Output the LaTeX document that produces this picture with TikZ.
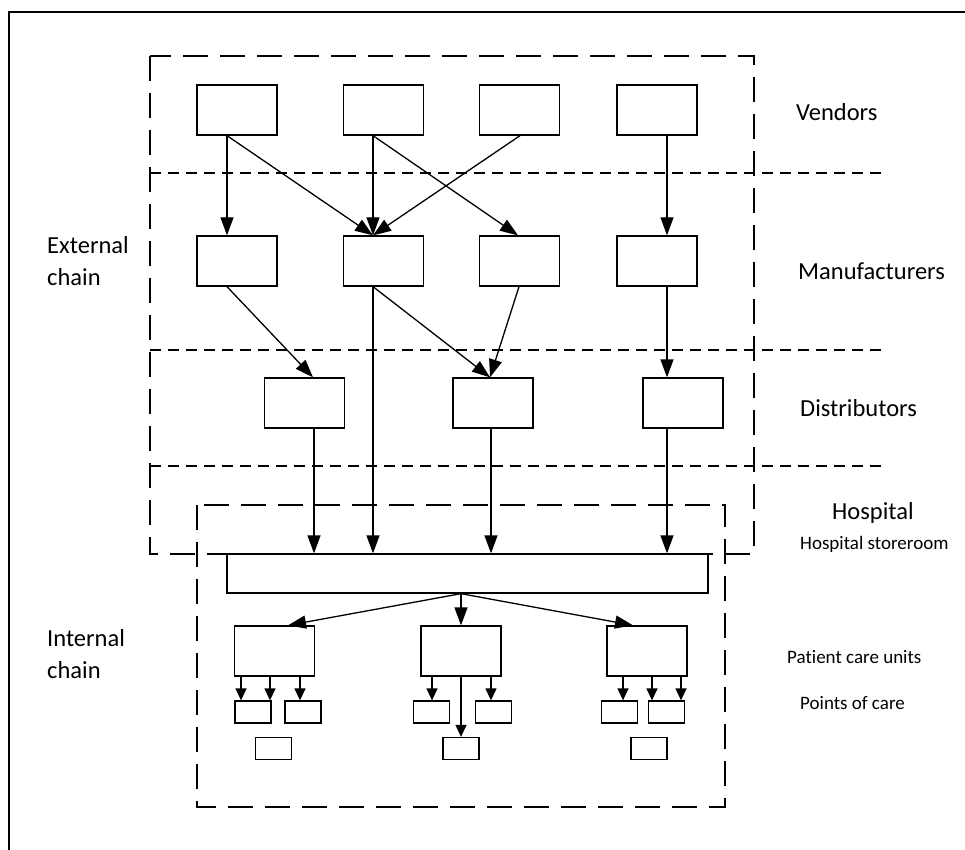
\documentclass[tikz,border=0pt]{standalone}
\usepackage{fontspec}
\setmainfont{Carlito}[Ligatures=NoCommon]
\usetikzlibrary{arrows.meta,calc}

\begin{document}
\begin{tikzpicture}[x=1pt,y=-1pt,
  box/.style={draw, line width=1.3pt, minimum width=80pt, minimum height=50pt, inner sep=0pt},
  poc/.style={draw, line width=1.3pt, minimum width=36pt, minimum height=22pt, inner sep=0pt},
  arr/.style={line width=1.3pt, -{Triangle[length=18pt,width=13pt]}},
  sarr/.style={line width=1.3pt, -{Triangle[length=12pt,width=11pt]}},
  zone/.style={line width=1.3pt, dash pattern=on 25pt off 12pt},
  tier/.style={line width=1.3pt, dash pattern=on 11pt off 7pt},
  big/.style={font=\fontsize{24.5}{30}\selectfont, inner sep=0pt, anchor=base west},
  small/.style={font=\fontsize{19}{23}\selectfont, inner sep=0pt, anchor=base west},
]
\useasboundingbox (0,0) rectangle (965,850);

% page frame
\draw[line width=1.5pt] (9,850) -- (9,12) -- (965,12);

% external chain zone and tier separators
\draw[zone] (150,56) rectangle (754,554);
\draw[tier] (150,173) -- (883,173);
\draw[tier] (150,350) -- (883,350);
\draw[tier] (150,466) -- (883,466);

% hospital zone
\draw[zone] (197,505) rectangle (725,807);

% vendors
\node[box] (v1) at (237,110) {};
\node[box] (v2) at (383.5,110) {};
\node[box] (v3) at (519.5,110) {};
\node[box] (v4) at (657,110) {};

% manufacturers
\node[box] (m1) at (237,261) {};
\node[box] (m2) at (383.5,261) {};
\node[box] (m3) at (519.5,261) {};
\node[box] (m4) at (657,261) {};

% distributors
\node[box] (d1) at (304.5,403) {};
\node[box] (d2) at (493,403) {};
\node[box] (d3) at (683,403) {};

% hospital storeroom
\node[draw, line width=1.3pt, minimum width=481pt, minimum height=39pt, inner sep=0pt] (s) at (467.5,573.5) {};

% patient care units
\node[box] (p1) at (274.5,651) {};
\node[box] (p2) at (461,651) {};
\node[box] (p3) at (647,651) {};

% points of care
\node[poc] (p1a) at (253,712) {};
\node[poc] (p1b) at (303,712) {};
\node[poc] (p1c) at (273.5,748.5) {};
\node[poc] (p2a) at (431.5,712) {};
\node[poc] (p2b) at (493.5,712) {};
\node[poc] (p2c) at (461,748.5) {};
\node[poc] (p3a) at (619.5,712) {};
\node[poc] (p3b) at (666.5,712) {};
\node[poc] (p3c) at (649,748.5) {};

% vendor -> manufacturer flows
\draw[arr] ($(v1.south)+(-10,0)$) -- ($(m1.north)+(-10,0)$);
\draw[arr] ($(v1.south)+(-10,0)$) -- ($(m2.north)+(-10.5,0)$);
\draw[arr] ($(v2.south)+(-10.5,0)$) -- ($(m2.north)+(-10.5,0)$);
\draw[arr] ($(v2.south)+(-10.5,0)$) -- ($(m3.north)+(-1.5,0)$);
\draw[arr] ($(v3.south)+(0.5,0)$) -- ($(m2.north)+(-10.5,0)$);
\draw[arr] ($(v4.south)+(10,0)$) -- ($(m4.north)+(10,0)$);

% manufacturer -> distributor flows
\draw[arr] ($(m1.south)+(-10,0)$) -- ($(d1.north)+(8.5,0)$);
\draw[arr] ($(m2.south)+(-10.5,0)$) -- ($(d2.north)+(-3,0)$);
\draw[arr] ($(m3.south)+(-0.5,0)$) -- ($(d2.north)+(-3,0)$);
\draw[arr] ($(m4.south)+(10,0)$) -- ($(d3.north)+(-16,0)$);

% flows into the storeroom
\draw[arr] ($(m2.south)+(-10.5,0)$) coordinate (m2s) -- (m2s |- s.north);
\draw[arr] ($(d1.south)+(9.5,0)$) coordinate (d1s) -- (d1s |- s.north);
\draw[arr] ($(d2.south)+(-2,0)$) coordinate (d2s) -- (d2s |- s.north);
\draw[arr] ($(d3.south)+(-16,0)$) coordinate (d3s) -- (d3s |- s.north);

% storeroom -> patient care units
\draw[arr] ($(s.south)+(-6.5,0)$) -- ($(p1.north)+(13.5,0)$);
\draw[arr] ($(s.south)+(-6.5,0)$) -- (p2.north);
\draw[arr] ($(s.south)+(-6.5,0)$) -- ($(p3.north)+(-14,0)$);

% patient care units -> points of care
\foreach \src/\dx/\dst in {p1/-33.5/p1a, p1/-4.5/p1a, p1/25.5/p1b,
                           p2/-29/p2a, p2/0/p2c, p2/30/p2b,
                           p3/-24/p3a, p3/5/p3b, p3/34/p3b}
  \draw[sarr] ($(\src.south)+(\dx,0)$) coordinate (src) -- (src |- \dst.north);

% labels
\node[big] (lv) at (796,121) {Vendors};
\node[big] (lm) at (798,279) {Manufacturers};
\node[big] (ld) at (800,416) {Distributors};
\node[big] (lh) at (832,519) {Hospital};
\node[small] (ls) at (800,549) {Hospital storeroom};
\node[small] (lp) at (787,663) {Patient care units};
\node[small] (lc) at (800,709) {Points of care};
\node[big] (le1) at (47,253) {External};
\node[big] (le2) at (47,285) {chain};
\node[big] (li1) at (47,646) {Internal};
\node[big] (li2) at (47,678) {chain};
\end{tikzpicture}
\end{document}
